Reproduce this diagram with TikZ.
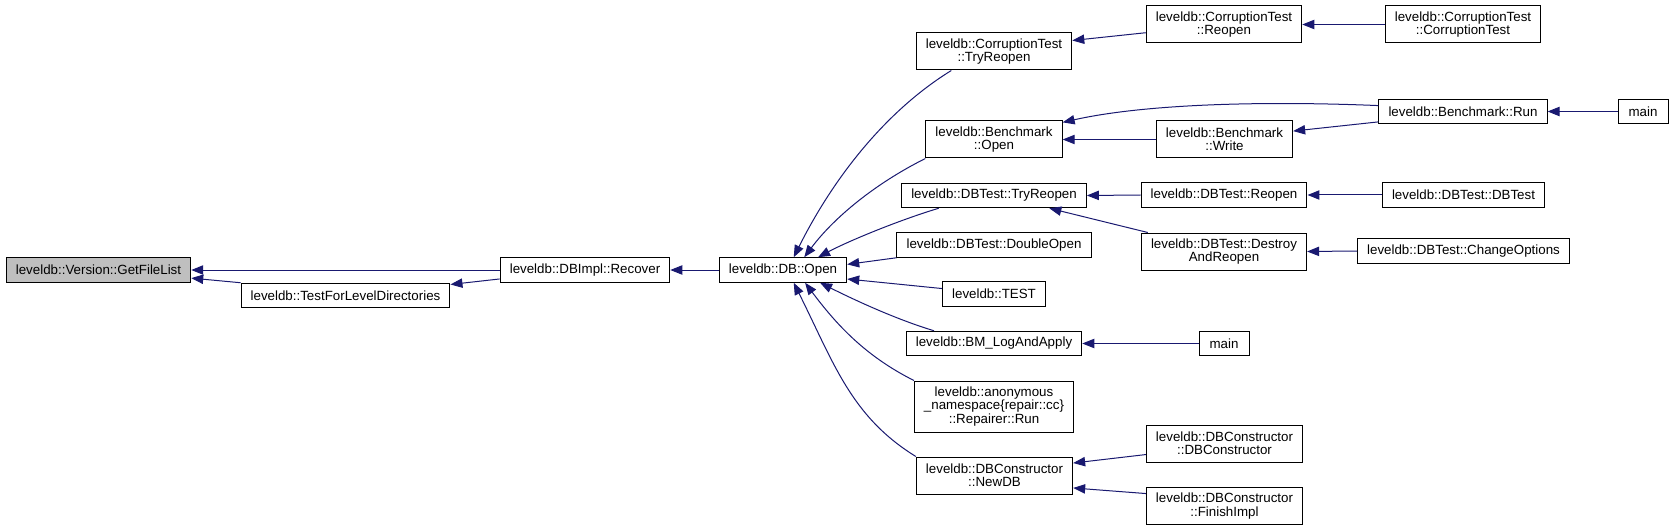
\documentclass[tikz,border=0pt]{standalone}
\usepackage{fontspec}
\setmainfont{Liberation Sans}
\usepackage{tikz}
\usetikzlibrary{arrows.meta}
\definecolor{edgeblue}{HTML}{191970}
\tikzset{
    fnode/.style={rectangle, draw=black, line width=0.75pt, align=center, inner xsep=7.2pt, inner ysep=3pt, minimum height=18.4pt, font=\fontsize{10}{10}\selectfont},
    fnode2/.style={fnode, minimum height=27.75pt},
    fnode3/.style={fnode, minimum height=38.25pt},
    rootnode/.style={fnode, fill=black!25},
    mainnode/.style={fnode, minimum width=37.5pt},
    call/.style={draw=edgeblue, line width=0.75pt, -{Triangle[length=9pt, width=7pt]}},
}
\begin{document}
\begin{tikzpicture}[x=0.75pt, y=-0.75pt]
    \useasboundingbox (0,0) rectangle (1674,531);

    % Function and its direct callers
    \node[rootnode] (gfl) at (98.5,270) {leveldb::Version::GetFileList};
    \node[fnode] (tld) at (345.5,295.5) {leveldb::TestForLevelDirectories};
    \node[fnode] (rec) at (585,270) {leveldb::DBImpl::Recover};
    \node[fnode] (dbo) at (783,270) {leveldb::DB::Open};

    % Callers of DB::Open
    \node[fnode2] (ctt) at (994,51.5) {leveldb::CorruptionTest\\::TryReopen};
    \node[fnode2] (bmo) at (994,139.5) {leveldb::Benchmark\\::Open};
    \node[fnode] (dtt) at (994,195.5) {leveldb::DBTest::TryReopen};
    \node[fnode] (ddo) at (994,245) {leveldb::DBTest::DoubleOpen};
    \node[fnode] (tst) at (994,294) {leveldb::TEST};
    \node[fnode] (bml) at (994,343.5) {leveldb::BM\_LogAndApply};
    \node[fnode3] (rpr) at (994,406.5) {leveldb::anonymous\\\_namespace\{repair::cc\}\\::Repairer::Run};
    \node[fnode2] (ndb) at (994.5,475.5) {leveldb::DBConstructor\\::NewDB};

    % Next column
    \node[fnode2] (ctr) at (1224,24.5) {leveldb::CorruptionTest\\::Reopen};
    \node[fnode2] (bmw) at (1224.5,139.5) {leveldb::Benchmark\\::Write};
    \node[fnode] (dtr) at (1224,195) {leveldb::DBTest::Reopen};
    \node[fnode2] (dar) at (1224,251.5) {leveldb::DBTest::Destroy\\AndReopen};
    \node[mainnode] (mn2) at (1224,343.5) {main};
    \node[fnode2] (dbc) at (1224.5,443.5) {leveldb::DBConstructor\\::DBConstructor};
    \node[fnode2] (fin) at (1224.5,506) {leveldb::DBConstructor\\::FinishImpl};

    % Outer columns
    \node[fnode2] (ctc) at (1463,24.5) {leveldb::CorruptionTest\\::CorruptionTest};
    \node[fnode] (bmr) at (1463,111.5) {leveldb::Benchmark::Run};
    \node[fnode] (dtd) at (1463.5,195) {leveldb::DBTest::DBTest};
    \node[fnode] (dco) at (1463.5,251) {leveldb::DBTest::ChangeOptions};
    \node[mainnode] (mn1) at (1643,111.5) {main};

    % Calls
    \draw[call] (rec.west) -- (gfl.east);
    \draw[call] (tld.north west) -- (gfl.-5);
    \draw[call] (rec.186) -- (tld.6);
    \draw[call] (dbo.west) -- (rec.east);

    \draw[call] (ctt.204) .. controls +(-65,40) and +(40,-80) .. (dbo.50);
    \draw[call] (bmo.south west) .. controls +(-50,25) and +(30,-40) .. (dbo.31);
    \draw[call] (dtt.193) .. controls +(-40,12) and +(30,-16) .. (dbo.20);
    \draw[call] (ddo.south west) -- (dbo.5);
    \draw[call] (tst.174) -- (dbo.-8);
    \draw[call] (bml.168) .. controls +(-40,-12) and +(30,15) .. (dbo.-19);
    \draw[call] (rpr.162) .. controls +(-50,-25) and +(30,40) .. (dbo.-30);
    \draw[call] (ndb.north west) .. controls +(-65,-40) and +(40,80) .. (dbo.-50);

    \draw[call] (ctr.186) -- (ctt.8);
    \draw[call] (bmr.176) .. controls +(-120,-5) and +(80,-18) .. (bmo.14);
    \draw[call] (bmw.west) -- (bmo.east);
    \draw[call] (bmr.187) -- (bmw.7);
    \draw[call] (dtr.west) -- (dtt.east);
    \draw[call] (dar.166) -- (dtt.-13);
    \draw[call] (mn2.west) -- (bml.east);
    \draw[call] (dbc.188) -- (ndb.9);
    \draw[call] (fin.171) -- (ndb.-9);

    \draw[call] (ctc.west) -- (ctr.east);
    \draw[call] (mn1.west) -- (bmr.east);
    \draw[call] (dtd.west) -- (dtr.east);
    \draw[call] (dco.west) -- (dar.east);
\end{tikzpicture}
\end{document}
